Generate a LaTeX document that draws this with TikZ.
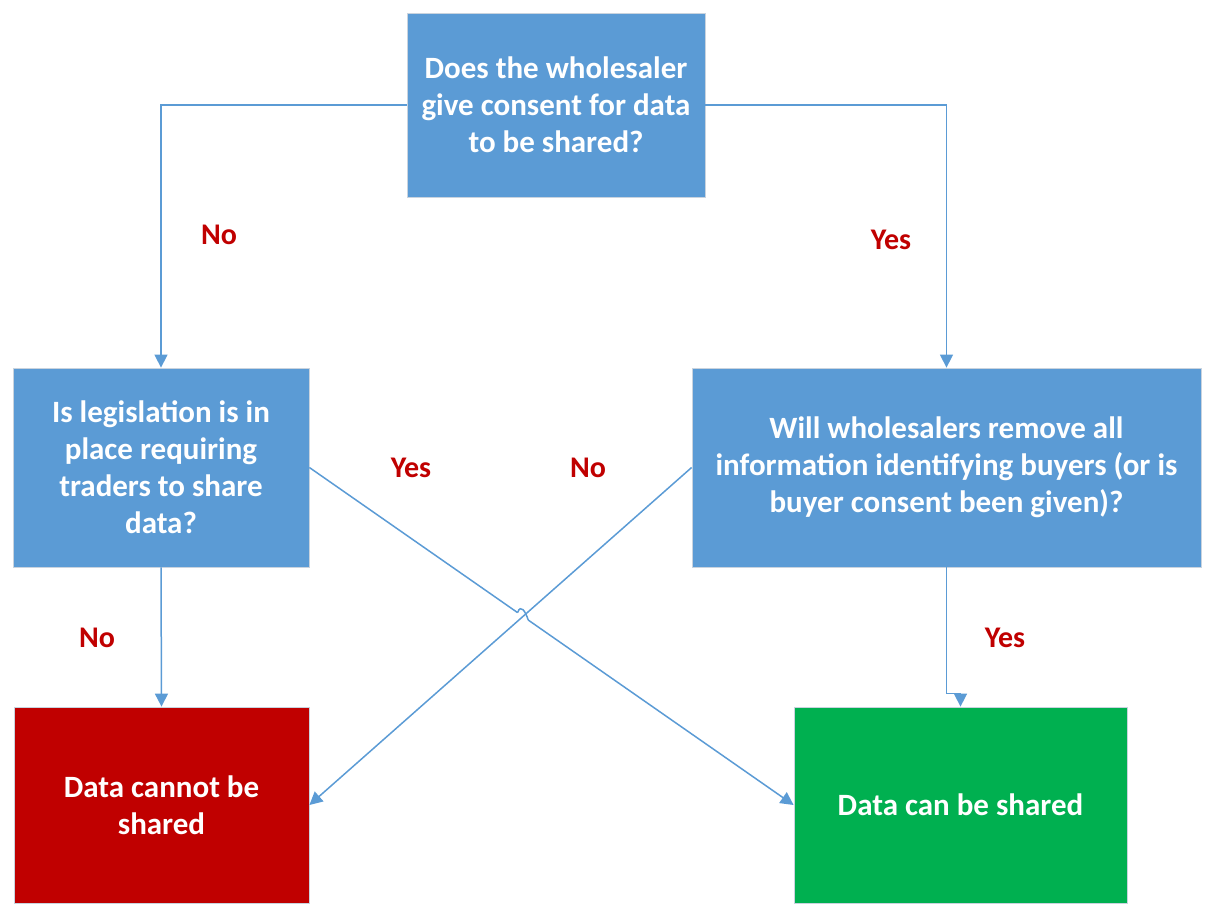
\documentclass[tikz,border=0pt]{standalone}
\usepackage{fontspec}
\setmainfont{Carlito}
\usetikzlibrary{arrows.meta,calc}
\definecolor{boxblue}{HTML}{5B9BD5}
\definecolor{boxred}{HTML}{C00000}
\definecolor{boxgreen}{HTML}{00B050}
\definecolor{lblred}{HTML}{C00000}
\definecolor{edgegray}{HTML}{C9D3DE}
\tikzset{
  decision/.style={rectangle, fill=boxblue, draw=edgegray, line width=0.8pt,
    text=white, font=\fontsize{31}{37}\selectfont\bfseries, align=center,
    inner sep=0pt},
  outcome/.style={rectangle, draw=edgegray, line width=0.8pt,
    text=white, font=\fontsize{31}{37}\selectfont\bfseries, align=center,
    inner sep=0pt},
  flow/.style={draw=boxblue, line width=1.5pt,
    -{Triangle[length=13pt,width=13pt]}},
  answer/.style={text=lblred, font=\fontsize{30}{34}\selectfont\bfseries},
}
\begin{document}
\begin{tikzpicture}[x=1pt,y=-1pt]
\useasboundingbox (0,0) rectangle (1208,903);

% questions
\node[decision, minimum width=298pt, minimum height=184pt] (q1) at (556,105)
  {Does the wholesaler\\give consent for data\\to be shared?};
\node[decision, minimum width=296pt, minimum height=199pt] (q2) at (161,467.5)
  {Is legislation is in\\place requiring\\traders to share\\data?};
\node[decision, minimum width=509pt, minimum height=199pt] (q3) at (946.5,467.5)
  {Will wholesalers remove all\\information identifying buyers (or is\\buyer consent been given)?};

% outcomes
\node[outcome, fill=boxred, minimum width=295pt, minimum height=196pt] (no) at (161.5,805)
  {Data cannot be\\shared};
\node[outcome, fill=boxgreen, minimum width=333pt, minimum height=196pt] (yes) at (960.5,805)
  {Data can be shared};

% connectors
\draw[flow] (q1.west) -| (q2.north);
\draw[flow] (q1.east) -| (q3.north);
\draw[flow] (q2.south) -- (no.north);
\draw[flow] (q3.south) -- ++(0,126) -| (yes.north);
\draw[flow] (q3.west) -- (no.east);
% legislation "Yes" line hops over the crossing line
\coordinate (hs) at ($(q2.east)!0.43!(yes.west)$);
\coordinate (he) at ($(q2.east)!0.452!(yes.west)$);
\draw[draw=boxblue, line width=1.5pt] (q2.east) -- (hs);
\draw[draw=boxblue, line width=1.5pt] (hs) .. controls ($(hs)+(3,-9)$) and ($(he)+(-3,-9)$) .. (he);
\draw[flow] (he) -- (yes.west);

% answer labels
\node[answer] (l1) at (219,235) {No};
\node[answer] (l2) at (891,240) {Yes};
\node[answer] (l3) at (411,468) {Yes};
\node[answer] (l4) at (588,468) {No};
\node[answer] (l5) at (97,638) {No};
\node[answer] (l6) at (1005,638) {Yes};
\end{tikzpicture}
\end{document}
